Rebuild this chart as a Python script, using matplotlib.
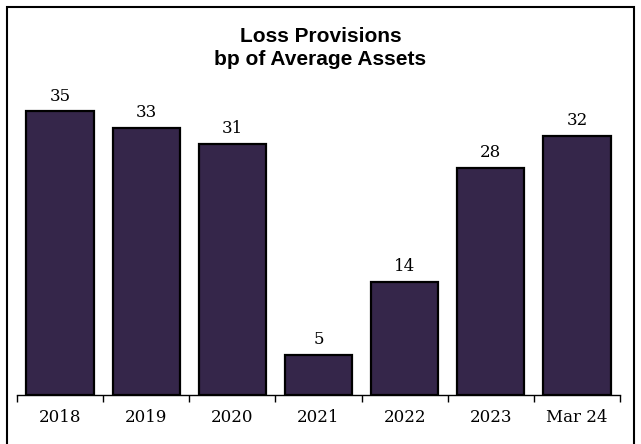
import matplotlib
matplotlib.use("Agg")
import matplotlib.pyplot as plt
from matplotlib.patches import Rectangle

categories = ["2018", "2019", "2020", "2021", "2022", "2023", "Mar 24"]
provisions_bp = [35, 33, 31, 5, 14, 28, 32]

bar_color = "#35264a"
label_font = "DejaVu Serif"

fig = plt.figure(figsize=(6.41, 4.44), dpi=100)
ax = fig.add_axes([17 / 641, 49 / 444, 603 / 641, 324 / 444])

x = range(len(categories))
bars = ax.bar(x, provisions_bp, width=0.78, color=bar_color, edgecolor="black", linewidth=1.6)

for rect, val in zip(bars, provisions_bp):
    ax.annotate(str(val), (rect.get_x() + rect.get_width() / 2, rect.get_height()),
                xytext=(0, 5), textcoords="offset points", ha="center", va="bottom",
                fontsize=12, family=label_font)

ax.set_xlim(-0.5, len(categories) - 0.5)
ax.set_ylim(0, 40)

# labels centred under bars, tick marks between categories
ax.set_xticks(list(x))
ax.set_xticklabels(categories, fontsize=12, family=label_font)
ax.tick_params(axis="x", which="major", length=0, pad=10)
ax.set_xticks([i - 0.5 for i in range(len(categories) + 1)], minor=True)
ax.tick_params(axis="x", which="minor", length=5, width=1, direction="out")
ax.set_yticks([])

for side in ["left", "right", "top"]:
    ax.spines[side].set_visible(False)
ax.spines["bottom"].set_linewidth(1)

fig.text(0.5, 1 - 48 / 444, "Loss Provisions\nbp of Average Assets", ha="center", va="center",
         fontsize=15, fontweight="bold", family="Liberation Sans", linespacing=1.25)

# frame around the figure, open at the bottom edge
fig.add_artist(Rectangle((7 / 641, -0.05), 627 / 641, 0.05 + 437 / 444, transform=fig.transFigure,
                         fill=False, edgecolor="black", linewidth=1.5))

fig.savefig("out.png", dpi=100)
